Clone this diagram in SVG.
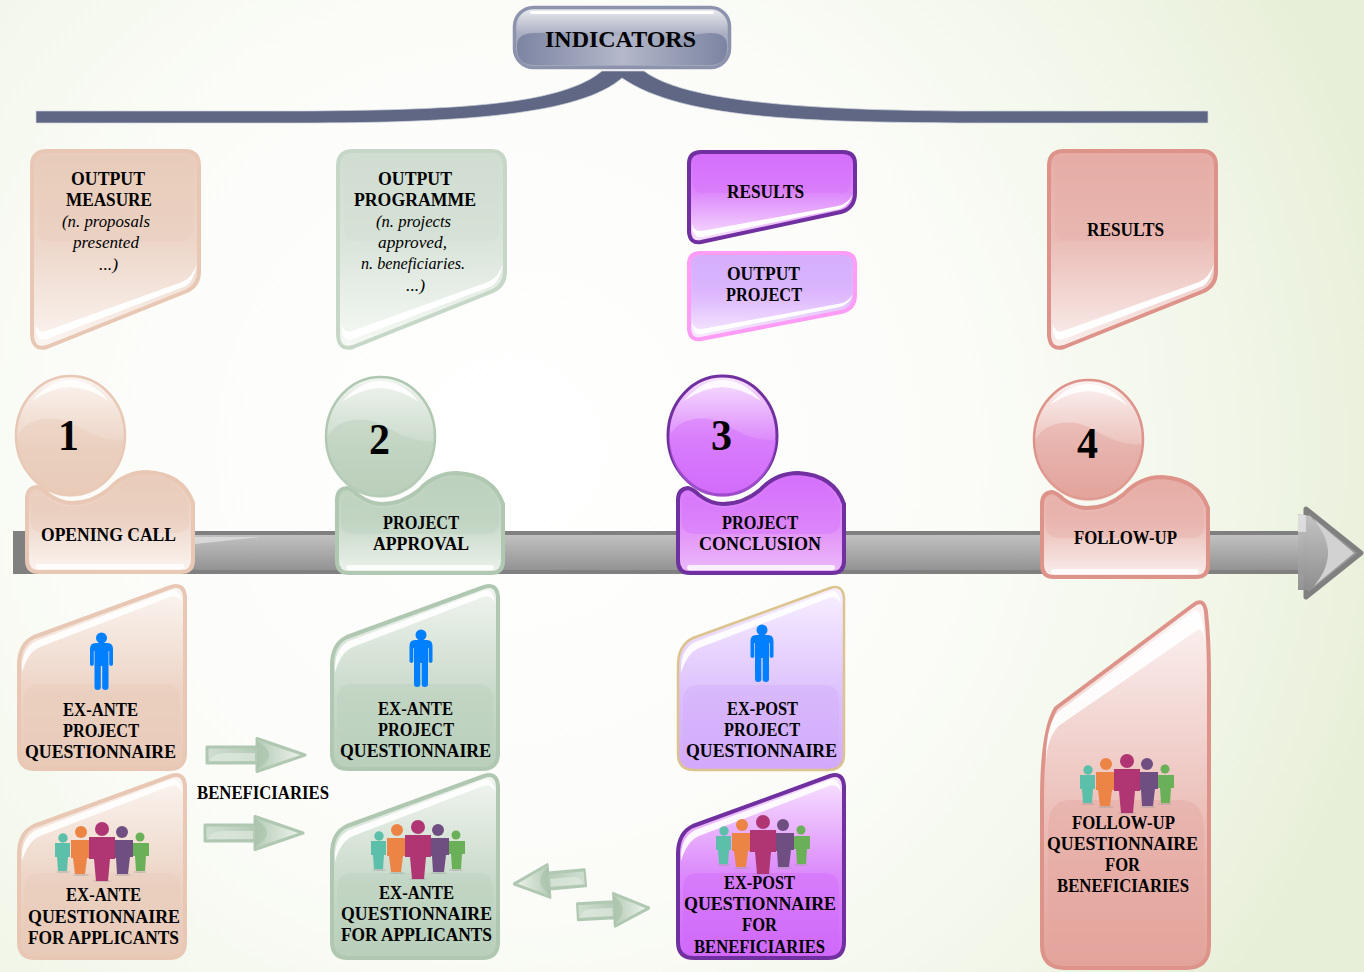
<svg xmlns="http://www.w3.org/2000/svg" xmlns:xlink="http://www.w3.org/1999/xlink" width="1364" height="972" viewBox="0 0 1364 972">
<style>
text{font-family:"Liberation Serif","Times New Roman",serif;fill:#000}
.b{font-weight:700;font-size:18px}
.i{font-style:italic;font-size:17px}
.n{font-weight:700;font-size:44px}
.edge{stroke-width:4;stroke-linejoin:round}
.wh{fill:#fff}
</style>
<defs>
<radialGradient id="bg" gradientUnits="userSpaceOnUse" cx="510" cy="450" r="900">
<stop offset="0" stop-color="#fff"/><stop offset=".5" stop-color="#fbfcf8"/><stop offset=".8" stop-color="#f1f6e8"/><stop offset="1" stop-color="#e8efd8"/>
</radialGradient>
<linearGradient id="bar" x1="0" y1="0" x2="0" y2="1"><stop offset="0" stop-color="#c6c6c6"/><stop offset="1" stop-color="#8e8e8e"/></linearGradient>
<linearGradient id="ind" x1="0" y1="0" x2="0" y2="1"><stop offset="0" stop-color="#eceef2"/><stop offset=".45" stop-color="#a9adc0"/><stop offset="1" stop-color="#a9adc0"/></linearGradient>
<linearGradient id="indh" x1="0" y1="0" x2="1" y2="0"><stop offset="0" stop-color="#7c84a2"/><stop offset=".5" stop-color="#b4b8ca"/><stop offset="1" stop-color="#7c84a2"/></linearGradient>
<linearGradient id="arw" x1="0" y1="0" x2="1" y2="0"><stop offset="0" stop-color="#cfded0"/><stop offset=".5" stop-color="#b5cbb6"/><stop offset="1" stop-color="#f0f5ef"/></linearGradient>

<linearGradient id="dPeach" x1="0" y1="0" x2="0" y2="1"><stop offset="0" stop-color="#e9ccba"/><stop offset=".45" stop-color="#edd5c8"/><stop offset="1" stop-color="#fbf5f1"/></linearGradient>
<linearGradient id="dGreen" x1="0" y1="0" x2="0" y2="1"><stop offset="0" stop-color="#d0ddd1"/><stop offset=".45" stop-color="#d9e4da"/><stop offset="1" stop-color="#f6f9f5"/></linearGradient>
<linearGradient id="hGreen" x1="0" y1="0" x2="0" y2="1"><stop offset="0" stop-color="#bdd1be"/><stop offset=".5" stop-color="#c8d9c9"/><stop offset="1" stop-color="#ecf2ec"/></linearGradient>
<linearGradient id="dPurple" x1="0" y1="0" x2="0" y2="1"><stop offset="0" stop-color="#d56efc"/><stop offset=".45" stop-color="#dd88fb"/><stop offset="1" stop-color="#f8e4ff"/></linearGradient>
<linearGradient id="hPurple" x1="0" y1="0" x2="0" y2="1"><stop offset="0" stop-color="#d56efc"/><stop offset=".6" stop-color="#e396f8"/><stop offset="1" stop-color="#ecbafa"/></linearGradient>
<linearGradient id="dLilac" x1="0" y1="0" x2="0" y2="1"><stop offset="0" stop-color="#d5aefc"/><stop offset=".5" stop-color="#deb9fd"/><stop offset="1" stop-color="#f8ecff"/></linearGradient>
<linearGradient id="dRose" x1="0" y1="0" x2="0" y2="1"><stop offset="0" stop-color="#e6aca5"/><stop offset=".45" stop-color="#ebbcb6"/><stop offset="1" stop-color="#f9efed"/></linearGradient>

<linearGradient id="uPeach" x1="0" y1="0" x2="0" y2="1"><stop offset="0" stop-color="#fbf5f1"/><stop offset=".6" stop-color="#ecd3c4"/><stop offset="1" stop-color="#e9cab8"/></linearGradient>
<linearGradient id="uGreen" x1="0" y1="0" x2="0" y2="1"><stop offset="0" stop-color="#f1f5f0"/><stop offset=".6" stop-color="#c8d9c9"/><stop offset="1" stop-color="#bacfbb"/></linearGradient>
<linearGradient id="uLilac" x1="0" y1="0" x2="0" y2="1"><stop offset="0" stop-color="#f8f0ff"/><stop offset=".6" stop-color="#dcc0fd"/><stop offset="1" stop-color="#d2a9fb"/></linearGradient>
<linearGradient id="uPurple" x1="0" y1="0" x2="0" y2="1"><stop offset="0" stop-color="#f8e4ff"/><stop offset=".55" stop-color="#dc88fb"/><stop offset="1" stop-color="#d068fa"/></linearGradient>
<linearGradient id="uRose" x1="0" y1="0" x2="0" y2="1"><stop offset="0" stop-color="#fbf4f3"/><stop offset=".6" stop-color="#ebbdb7"/><stop offset="1" stop-color="#e2a399"/></linearGradient>

<path id="upper" d="M32 166Q32 151 47 151H185Q199 151 199 166V272Q199 285 187 291L47 347Q33 351 32 335Z"/>
<path id="upperBand" d="M38 166Q38 156 48 156H183Q193 156 193 166V230Q193 241 182 241H48Q38 241 38 230Z"/>
<path id="upperGlint" d="M36 330Q37 343 47 339L186 286Q194 281 197 264Q192 278 182 282L46 331Q39 334 36 325Z"/>

<path id="hump" d="M27 499Q27 488 37 487Q42 488 48 494Q60 503 72 503Q92 503 109 489Q125 472 147 472Q183 474 193 503V560Q193 572 181 572H39Q27 572 27 560Z"/>
<path id="humpBand" d="M31 500Q36 492 47 498Q60 507 72 507Q92 507 111 493Q125 477 147 477Q180 479 189 505V522Q189 533 175 533H45Q31 533 31 522Z"/>
<rect id="humpGlint" x="36" y="564" width="148" height="5" rx="2.500"/>

<ellipse id="disc" cx="70.500" cy="435.500" rx="54.500" ry="59.500"/>
<path id="discBand" d="M17 437C25 420 45 416 62 420C80 425 95 442 124 440A53.500 58.500 0 0 1 17 437Z"/>
<path id="discGlint" d="M32 401Q50 380 70 380Q92 380 109 401Q90 388 70 387Q50 388 32 401Z"/>

<path id="lower" d="M19 665Q19 644 34 637L171 587Q184 583 185 597V753Q185 769 169 769H35Q19 769 19 753Z"/>
<path id="lowerBand" d="M24 700Q24 684 40 684H165Q180 684 180 700V751Q180 764 166 764H38Q24 764 24 751Z"/>
<path id="lowerGlint" d="M22 665Q23 648 36 641L170 591Q180 587 182 603Q178 594 170 597L40 647Q28 652 22 672Z"/>

<g id="person" fill="#007fff">
<circle cx="0" cy="0" r="5.500"/>
<path d="M-6 5H6Q11.500 5 11.500 11V26.500A2 2 0 0 1 7.700 26.500V13H7V49Q7 52 4 52Q1 52 .7 50V28H-.7V50Q-1 52-4 52Q-7 52-7 49V13H-7.700V26.500A2 2 0 0 1-11.500 26.500V11Q-11.500 5-6 5Z"/>
</g>
<g id="crowd">
<ellipse cx="-39" cy="43" rx="7" ry="1" fill="#999" opacity=".4"/><ellipse cx="-21" cy="46" rx="8" ry="1" fill="#999" opacity=".4"/><ellipse cx="21" cy="46" rx="8" ry="1" fill="#999" opacity=".4"/><ellipse cx="38" cy="43" rx="7" ry="1" fill="#999" opacity=".4"/><ellipse cx="0" cy="52" rx="9" ry="1" fill="#999" opacity=".4"/>
<g fill="#5bbfa9"><circle cx="-39" cy="9" r="4.700"/><path d="M-47 14H-32V28H-34L-35 42H-44L-45 28H-47Z"/></g>
<g fill="#6ab058"><circle cx="38" cy="8" r="4.500"/><path d="M31 14H47V27H44L43 42H34L33 27H31Z"/></g>
<g fill="#ec8446"><circle cx="-21" cy="3" r="6"/><path d="M-31 11H-12V29H-15L-17 45H-27L-29 29H-31Z"/></g>
<g fill="#6f4f82"><circle cx="20" cy="3" r="6"/><path d="M12 11H31V28H28L26 45H15L14 29H12Z"/></g>
<g fill="#b03573"><circle cx="0" cy="0" r="7"/><path d="M-13 8H13V30H8L6 52H-6L-8 30H-13Z"/></g>
</g>
<g id="arrow">
<path d="M0 0L-48-16.500V-8H-98V8H-48V16.500Z" fill="url(#arw)" stroke="#b0c8b2" stroke-width="3" stroke-linejoin="round"/>
<path d="M-48-14Q-24 0-48 14Z" fill="#a4bfa6" opacity=".55"/>
<path d="M-95 6Q-92-2-80-2H-50V6Z" fill="#dfe9df" opacity=".7"/>
</g>
</defs>

<rect id="background" width="1364" height="972" fill="url(#bg)"/>

<g id="timeline">
<rect x="13" y="531" width="1293" height="43" fill="url(#bar)"/>
<rect x="13" y="531" width="1293" height="4" fill="#808080"/>
<rect x="13" y="570" width="1293" height="4" fill="#808080"/>
<rect x="13" y="531" width="14" height="43" rx="2" fill="#808080"/>
<path d="M195 537H260L195 544Z" fill="#d8d8d8"/>
<path d="M1306 509L1361 553L1306 597Z" fill="#9a9a9a" stroke="#808080" stroke-width="5" stroke-linejoin="round"/>
<path d="M1314 519L1354 553L1314 586L1324 570L1328 553L1324 536Z" fill="#d2d2d2"/>
<path d="M1298 514V531H1298V575H1298V590L1310 590Q1328 572 1328 553Q1328 534 1310 516Z" fill="url(#bar)" opacity=".95"/>
<rect x="1298" y="515" width="8" height="17" fill="#e8e8e8" opacity=".7"/>
</g>

<g id="connectors">
<g id="brace"><path d="M36 111H300C450 110 560 106 602 71H644C680 98 780 110 960 111H1208V123H960C800 122 680 118 622 78C580 115 460 123 300 123H36Z" fill="#5f6785" stroke="#d0d4dd" stroke-width=".7"/></g>
<use href="#arrow" transform="translate(305 755)"/>
<use href="#arrow" transform="translate(303 833)"/>
<use href="#arrow" transform="translate(514 884) rotate(-5) scale(-.73 1)"/>
<use href="#arrow" transform="translate(649 908) rotate(-3) scale(.73 1)"/>
</g>

<g id="indicators">
<rect x="514.500" y="7.500" width="215" height="60" rx="19" fill="url(#ind)" stroke="#8d93ad" stroke-width="3.500"/>
<path d="M517 45Q517 33 535 33Q570 31 620 36Q670 38 710 33Q727 33 727 45V48Q727 65 709 65H535Q517 65 517 48Z" fill="url(#indh)"/>
<rect x="530" y="11" width="184" height="3" rx="1.500" fill="#fff"/>
<text class="b" style="font-size:24px" x="545" y="47" textLength="151" lengthAdjust="spacingAndGlyphs">INDICATORS</text>
</g>

<g id="output-measure">
<use href="#upper" class="edge" fill="url(#dPeach)" stroke="#e8c8b5"/>
<use href="#upperBand" fill="#e9cbb9" opacity=".35"/><use href="#upperGlint" class="wh"/>
<text class="b" x="71" y="185" textLength="74" lengthAdjust="spacingAndGlyphs">OUTPUT</text>
<text class="b" x="66" y="206" textLength="86" lengthAdjust="spacingAndGlyphs">MEASURE</text>
<text class="i" x="62" y="227" textLength="88" lengthAdjust="spacingAndGlyphs">(n. proposals</text>
<text class="i" x="73" y="248" textLength="66" lengthAdjust="spacingAndGlyphs">presented</text>
<text class="i" x="99" y="270" textLength="19" lengthAdjust="spacingAndGlyphs">...)</text>
</g>

<g id="output-programme">
<g transform="translate(306 0)"><use href="#upper" class="edge" fill="url(#dGreen)" stroke="#c6d7c7"/>
<use href="#upperBand" fill="#d0ddd0" opacity=".35"/><use href="#upperGlint" class="wh"/></g>
<text class="b" x="378" y="185" textLength="74" lengthAdjust="spacingAndGlyphs">OUTPUT</text>
<text class="b" x="354" y="206" textLength="122" lengthAdjust="spacingAndGlyphs">PROGRAMME</text>
<text class="i" x="376" y="227" textLength="75" lengthAdjust="spacingAndGlyphs">(n. projects</text>
<text class="i" x="378" y="248" textLength="69" lengthAdjust="spacingAndGlyphs">approved,</text>
<text class="i" x="361" y="269" textLength="104" lengthAdjust="spacingAndGlyphs">n. beneficiaries.</text>
<text class="i" x="406" y="291" textLength="19" lengthAdjust="spacingAndGlyphs">...)</text>
</g>

<g id="results-3">
<path class="edge" d="M689 164Q689 152 701 152H843Q855 152 855 164V193Q855 208 841 212L701 242Q690 244 689 232Z" fill="url(#dPurple)" stroke="#7030a0"/>
<path d="M693 166Q693 156 703 156H841Q851 156 851 166V183Q851 193 841 193H703Q693 193 693 183Z" fill="#d56efc" opacity=".35"/>
<path d="M692 226Q693 239 702 237L840 209Q850 205 853 194Q848 204 838 206L702 231Q694 232 692 224Z" class="wh"/>
<text class="b" x="727" y="198" textLength="77" lengthAdjust="spacingAndGlyphs">RESULTS</text>
</g>

<g id="output-project">
<path class="edge" d="M689 264Q689 253 701 253H843Q855 253 855 264V295Q855 309 841 312L701 339Q690 341 689 329Z" fill="url(#dLilac)" stroke="#ff9cf5"/>
<path d="M693 266Q693 257 703 257H841Q851 257 851 266V282Q851 292 841 292H703Q693 292 693 282Z" fill="#d5aefc" opacity=".35"/>
<path d="M692 324Q693 336 702 334L840 307Q850 304 853 294Q848 303 838 304L702 329Q694 330 692 322Z" class="wh"/>
<text class="b" x="727" y="279.500" textLength="73" lengthAdjust="spacingAndGlyphs">OUTPUT</text>
<text class="b" x="726" y="301" textLength="76" lengthAdjust="spacingAndGlyphs">PROJECT</text>
</g>

<g id="results-4">
<g transform="translate(1017 0)"><use href="#upper" class="edge" fill="url(#dRose)" stroke="#dd9389"/>
<use href="#upperBand" fill="#e6aca5" opacity=".35"/><use href="#upperGlint" class="wh"/></g>
<text class="b" x="1087" y="236" textLength="77" lengthAdjust="spacingAndGlyphs">RESULTS</text>
</g>

<g id="opening-call">
<use href="#hump" class="edge" fill="url(#dPeach)" stroke="#e8c8b5"/>
<use href="#humpBand" fill="#e9cbb9" opacity=".4"/><use href="#humpGlint" class="wh" opacity=".8"/>
<use href="#disc" fill="url(#uPeach)" stroke="#e8c8b5" stroke-width="2.500"/>
<use href="#discBand" fill="#e9cbb9" opacity=".45"/><use href="#discGlint" class="wh" opacity=".85"/>
<text class="n" x="58" y="450" textLength="21" lengthAdjust="spacingAndGlyphs">1</text>
<text class="b" x="41" y="541" textLength="135" lengthAdjust="spacingAndGlyphs">OPENING CALL</text>
</g>

<g id="project-approval">
<g transform="translate(310 1)"><use href="#hump" class="edge" fill="url(#hGreen)" stroke="#b0c8b2"/>
<use href="#humpBand" fill="#bacfbb" opacity=".4"/><use href="#humpGlint" class="wh" opacity=".8"/>
<use href="#disc" fill="url(#uGreen)" stroke="#b0c8b2" stroke-width="2.500"/>
<use href="#discBand" fill="#bacfbb" opacity=".45"/><use href="#discGlint" class="wh" opacity=".85"/></g>
<text class="n" x="369" y="454" textLength="21" lengthAdjust="spacingAndGlyphs">2</text>
<text class="b" x="383" y="529" textLength="76" lengthAdjust="spacingAndGlyphs">PROJECT</text>
<text class="b" x="373" y="550" textLength="96" lengthAdjust="spacingAndGlyphs">APPROVAL</text>
</g>

<g id="project-conclusion">
<g transform="translate(651 1)"><use href="#hump" class="edge" fill="url(#hPurple)" stroke="#7030a0"/>
<use href="#humpBand" fill="#d56efc" opacity=".4"/><use href="#humpGlint" class="wh" opacity=".8"/></g>
<g transform="translate(652 0)"><use href="#disc" fill="url(#uPurple)" stroke="#7030a0" stroke-width="3"/>
<use href="#discBand" fill="#d56efc" opacity=".45"/><use href="#discGlint" class="wh" opacity=".85"/></g>
<text class="n" x="711" y="450" textLength="21" lengthAdjust="spacingAndGlyphs">3</text>
<text class="b" x="722" y="529" textLength="76" lengthAdjust="spacingAndGlyphs">PROJECT</text>
<text class="b" x="699" y="550" textLength="122" lengthAdjust="spacingAndGlyphs">CONCLUSION</text>
</g>

<g id="follow-up">
<g transform="translate(1015 5)"><use href="#hump" class="edge" fill="url(#dRose)" stroke="#dd9389"/>
<use href="#humpBand" fill="#e6aca5" opacity=".4"/><use href="#humpGlint" class="wh" opacity=".85"/></g>
<g transform="translate(1018 4)"><use href="#disc" fill="url(#uRose)" stroke="#dd9389" stroke-width="2.500"/>
<use href="#discBand" fill="#e3a59e" opacity=".45"/><use href="#discGlint" class="wh" opacity=".85"/></g>
<text class="n" x="1077" y="458" textLength="21" lengthAdjust="spacingAndGlyphs">4</text>
<text class="b" x="1074" y="544" textLength="103" lengthAdjust="spacingAndGlyphs">FOLLOW-UP</text>
</g>

<g id="exante-project-1">
<use href="#lower" class="edge" fill="url(#uPeach)" stroke="#e8c8b5"/>
<use href="#lowerBand" fill="#e9cbb9" opacity=".4"/><use href="#lowerGlint" class="wh" opacity=".9"/>
<use href="#person" x="101.500" y="638"/>
<text class="b" x="63" y="716" textLength="75" lengthAdjust="spacingAndGlyphs">EX-ANTE</text>
<text class="b" x="63" y="737" textLength="76" lengthAdjust="spacingAndGlyphs">PROJECT</text>
<text class="b" x="25" y="758" textLength="151" lengthAdjust="spacingAndGlyphs">QUESTIONNAIRE</text>
</g>

<g id="exante-project-2">
<g transform="translate(313 0)"><use href="#lower" class="edge" fill="url(#uGreen)" stroke="#b0c8b2"/>
<use href="#lowerBand" fill="#bacfbb" opacity=".4"/><use href="#lowerGlint" class="wh" opacity=".9"/></g>
<use href="#person" x="421" y="635"/>
<text class="b" x="378" y="715" textLength="75" lengthAdjust="spacingAndGlyphs">EX-ANTE</text>
<text class="b" x="378" y="736" textLength="76" lengthAdjust="spacingAndGlyphs">PROJECT</text>
<text class="b" x="340" y="757" textLength="151" lengthAdjust="spacingAndGlyphs">QUESTIONNAIRE</text>
</g>

<g id="expost-project">
<g transform="translate(659 1)"><use href="#lower" fill="url(#uLilac)" stroke="#dcc48e" stroke-width="2.500"/>
<use href="#lowerBand" fill="#d2a9fb" opacity=".4"/><use href="#lowerGlint" class="wh" opacity=".9"/></g>
<use href="#person" x="762" y="630"/>
<text class="b" x="727" y="715" textLength="71" lengthAdjust="spacingAndGlyphs">EX-POST</text>
<text class="b" x="724" y="736" textLength="76" lengthAdjust="spacingAndGlyphs">PROJECT</text>
<text class="b" x="686" y="757" textLength="151" lengthAdjust="spacingAndGlyphs">QUESTIONNAIRE</text>
</g>

<g id="exante-applicants-1">
<g transform="translate(0 189)"><use href="#lower" class="edge" fill="url(#uPeach)" stroke="#e8c8b5"/>
<use href="#lowerBand" fill="#e9cbb9" opacity=".4"/><use href="#lowerGlint" class="wh" opacity=".9"/></g>
<use href="#crowd" x="102" y="829"/>
<text class="b" x="66" y="901" textLength="75" lengthAdjust="spacingAndGlyphs">EX-ANTE</text>
<text class="b" x="28" y="923" textLength="152" lengthAdjust="spacingAndGlyphs">QUESTIONNAIRE</text>
<text class="b" x="28" y="944" textLength="151" lengthAdjust="spacingAndGlyphs">FOR APPLICANTS</text>
</g>

<g id="exante-applicants-2">
<g transform="translate(313 189)"><use href="#lower" class="edge" fill="url(#uGreen)" stroke="#b0c8b2"/>
<use href="#lowerBand" fill="#bacfbb" opacity=".4"/><use href="#lowerGlint" class="wh" opacity=".9"/></g>
<use href="#crowd" x="418" y="827"/>
<text class="b" x="379" y="899" textLength="75" lengthAdjust="spacingAndGlyphs">EX-ANTE</text>
<text class="b" x="341" y="920" textLength="151" lengthAdjust="spacingAndGlyphs">QUESTIONNAIRE</text>
<text class="b" x="341" y="941" textLength="151" lengthAdjust="spacingAndGlyphs">FOR APPLICANTS</text>
</g>

<g id="beneficiaries-label">
<text class="b" x="197" y="799" textLength="132" lengthAdjust="spacingAndGlyphs">BENEFICIARIES</text>
</g>

<g id="expost-beneficiaries">
<g transform="translate(659 189)"><use href="#lower" class="edge" fill="url(#uPurple)" stroke="#7030a0"/>
<use href="#lowerBand" fill="#d068fa" opacity=".4"/><use href="#lowerGlint" class="wh" opacity=".9"/></g>
<use href="#crowd" x="763" y="822"/>
<text class="b" x="724" y="889" textLength="71" lengthAdjust="spacingAndGlyphs">EX-POST</text>
<text class="b" x="684" y="910" textLength="152" lengthAdjust="spacingAndGlyphs">QUESTIONNAIRE</text>
<text class="b" x="742" y="931" textLength="35" lengthAdjust="spacingAndGlyphs">FOR</text>
<text class="b" x="694" y="953" textLength="131" lengthAdjust="spacingAndGlyphs">BENEFICIARIES</text>
</g>

<g id="followup-beneficiaries">
<path class="edge" d="M1042 800Q1042 730 1056 708L1192 606Q1204 596 1206 612Q1209 640 1209 680V945Q1209 968 1186 968H1065Q1042 968 1042 945Z" fill="url(#uRose)" stroke="#dd9389"/>
<path d="M1048 830Q1048 800 1070 800H1180Q1204 800 1204 830V945Q1204 963 1186 963H1066Q1048 963 1048 945Z" fill="#e3a59e" opacity=".4"/>
<path d="M1046 760Q1046 725 1058 712L1192 612Q1202 604 1205 640Q1203 626 1196 631L1060 725Q1048 735 1046 760Z" class="wh" opacity=".9"/>
<use href="#crowd" x="1127" y="761"/>
<text class="b" x="1072" y="829" textLength="103" lengthAdjust="spacingAndGlyphs">FOLLOW-UP</text>
<text class="b" x="1047" y="850" textLength="151" lengthAdjust="spacingAndGlyphs">QUESTIONNAIRE</text>
<text class="b" x="1105" y="871" textLength="35" lengthAdjust="spacingAndGlyphs">FOR</text>
<text class="b" x="1057" y="892" textLength="132" lengthAdjust="spacingAndGlyphs">BENEFICIARIES</text>
</g>
</svg>
